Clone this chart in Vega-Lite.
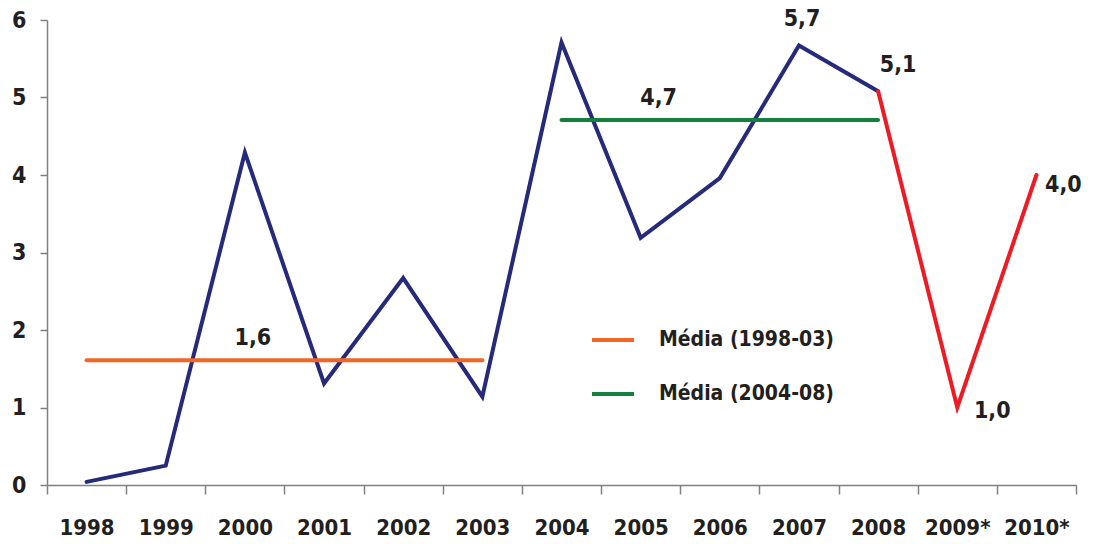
{
  "$schema": "https://vega.github.io/schema/vega-lite/v6.json",
  "width": 1029,
  "height": 465,
  "autosize": "none",
  "padding": {"left": 47, "top": 20, "right": 17, "bottom": 59},
  "background": "white",
  "config": {
    "view": {"stroke": null},
    "font": "DejaVu Sans Condensed",
    "text": {"font": "DejaVu Sans Condensed", "fontWeight": "bold", "fontSize": 23, "color": "#231f20"}
  },
  "datasets": {
    "series": [
      {"ano": "1998", "valor": 0.04, "serie": "Brasil"},
      {"ano": "1999", "valor": 0.25, "serie": "Brasil"},
      {"ano": "2000", "valor": 4.29, "serie": "Brasil"},
      {"ano": "2001", "valor": 1.31, "serie": "Brasil"},
      {"ano": "2002", "valor": 2.67, "serie": "Brasil"},
      {"ano": "2003", "valor": 1.14, "serie": "Brasil"},
      {"ano": "2004", "valor": 5.71, "serie": "Brasil"},
      {"ano": "2005", "valor": 3.19, "serie": "Brasil"},
      {"ano": "2006", "valor": 3.96, "serie": "Brasil"},
      {"ano": "2007", "valor": 5.67, "serie": "Brasil"},
      {"ano": "2008", "valor": 5.08, "serie": "Brasil"},
      {"ano": "2008", "valor": 5.08, "serie": "Projeção"},
      {"ano": "2009*", "valor": 1.0, "serie": "Projeção"},
      {"ano": "2010*", "valor": 4.0, "serie": "Projeção"},
      {"ano": "1998", "valor": 1.61, "serie": "Média (1998-03)"},
      {"ano": "2003", "valor": 1.61, "serie": "Média (1998-03)"},
      {"ano": "2004", "valor": 4.71, "serie": "Média (2004-08)"},
      {"ano": "2008", "valor": 4.71, "serie": "Média (2004-08)"}
    ]
  },
  "encoding": {
    "x": {
      "field": "ano", "type": "ordinal",
      "sort": ["1998","1999","2000","2001","2002","2003","2004","2005","2006","2007","2008","2009*","2010*"],
      "scale": {"type": "band", "paddingInner": 0, "paddingOuter": 0,
        "domain": ["1998","1999","2000","2001","2002","2003","2004","2005","2006","2007","2008","2009*","2010*"]},
      "axis": {
        "title": null, "labelAngle": 0, "tickBand": "extent",
        "domainColor": "#808080", "domainWidth": 1.5, "tickColor": "#808080", "tickWidth": 1.5, "tickSize": 9,
        "labelFont": "DejaVu Sans Condensed", "labelFontWeight": "bold", "labelFontSize": 22, "labelColor": "#231f20",
        "labelPadding": 23, "grid": false
      }
    },
    "y": {
      "field": "valor", "type": "quantitative",
      "scale": {"domain": [0, 6], "nice": false, "zero": true},
      "axis": {
        "title": null, "values": [0,1,2,3,4,5,6], "grid": false,
        "domainColor": "#808080", "domainWidth": 1.5, "tickColor": "#808080", "tickWidth": 1.5, "tickSize": 7,
        "labelFont": "DejaVu Sans Condensed", "labelFontWeight": "bold", "labelFontSize": 23, "labelColor": "#231f20",
        "labelPadding": 14
      }
    }
  },
  "layer": [
    {
      "data": {"name": "series"},
      "mark": {"type": "line", "strokeWidth": 4, "strokeCap": "round", "strokeJoin": "miter"},
      "encoding": {
        "color": {
          "field": "serie", "type": "nominal",
          "scale": {"domain": ["Média (1998-03)", "Média (2004-08)", "Brasil", "Projeção"],
                    "range": ["#f26522", "#138040", "#262a7a", "#ed1c24"]},
          "legend": {
            "values": ["Média (1998-03)", "Média (2004-08)"],
            "title": null, "orient": "none", "legendX": 543, "legendY": 297,
            "symbolType": "stroke", "symbolSize": 1764, "symbolStrokeWidth": 4,
            "labelFont": "DejaVu Sans Condensed", "labelFontWeight": "bold", "labelFontSize": 21, "labelColor": "#231f20",
            "labelLimit": 400, "labelOffset": 23, "rowPadding": 21
          }
        },
        "order": {"field": "ano", "type": "ordinal"}
      }
    },
    {
      "data": {"values": [{"ano": "2000", "valor": 1.61, "rotulo": "1,6"}]},
      "mark": {"type": "text", "dx": 8, "dy": -22},
      "encoding": {"text": {"field": "rotulo"}}
    },
    {
      "data": {"values": [{"ano": "2005", "valor": 4.71, "rotulo": "4,7"}]},
      "mark": {"type": "text", "dx": 18, "dy": -22},
      "encoding": {"text": {"field": "rotulo"}}
    },
    {
      "data": {"values": [{"ano": "2007", "valor": 5.67, "rotulo": "5,7"}]},
      "mark": {"type": "text", "dx": 3, "dy": -27},
      "encoding": {"text": {"field": "rotulo"}}
    },
    {
      "data": {"values": [{"ano": "2008", "valor": 5.08, "rotulo": "5,1"}]},
      "mark": {"type": "text", "dx": 20, "dy": -26},
      "encoding": {"text": {"field": "rotulo"}}
    },
    {
      "data": {"values": [{"ano": "2009*", "valor": 1.0, "rotulo": "1,0"}]},
      "mark": {"type": "text", "dx": 35, "dy": 3},
      "encoding": {"text": {"field": "rotulo"}}
    },
    {
      "data": {"values": [{"ano": "2010*", "valor": 4.0, "rotulo": "4,0"}]},
      "mark": {"type": "text", "dx": 27, "dy": 10},
      "encoding": {"text": {"field": "rotulo"}}
    }
  ]
}
